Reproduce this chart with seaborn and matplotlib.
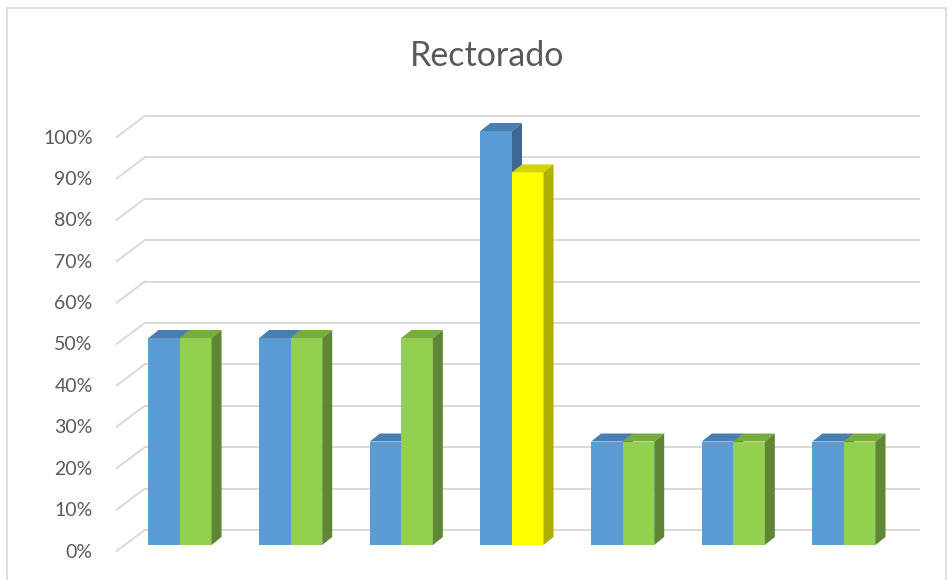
# grafico de barras "Rectorado" (estilo 3D de Excel)
import pandas as pd
import matplotlib.pyplot as plt
from matplotlib.patches import Polygon, Rectangle
import seaborn as sns

# datos
categorias = ['1', '2', '3', '4', '5', '6', '7']
serie_1 = [0.50, 0.50, 0.25, 1.00, 0.25, 0.25, 0.25]
serie_2 = [0.50, 0.50, 0.50, 0.90, 0.25, 0.25, 0.25]
ticks = [0.0, 0.1, 0.2, 0.3, 0.4, 0.5, 0.6, 0.7, 0.8, 0.9, 1.0]
titulo = "Rectorado"

# colores (frente, arriba, lado)
azul = ('#5b9bd5', '#4a7db0', '#3d6891')
verde = ('#92d050', '#77ac3f', '#5f8634')
amarillo = ('#ffff00', '#d4d400', '#b0b000')

W, H = 952, 580
fig = plt.figure(figsize=(W / 100, H / 100), dpi=100)

# posicion del eje en pixeles
L, B, AW, AH = 124.7, 35, 774.6, 414
ax = fig.add_axes([L / W, B / H, AW / W, AH / H])

df = pd.DataFrame({
    'categoria': categorias * 2,
    'valor': serie_1 + serie_2,
    'serie': ['Serie 1'] * len(categorias) + ['Serie 2'] * len(categorias),
})

sns.barplot(data=df, x='categoria', y='valor', hue='serie', palette=[azul[0], verde[0]],
            width=0.57, saturation=1, legend=False, ax=ax, zorder=3)

ax.set_xlim(-0.5, 6.5)
ax.set_ylim(0, 1)
ax.axis('off')

sx = 7 / AW   # unidades de datos por pixel
sy = 1 / AH

# la barra amarilla
barras = sorted(ax.patches, key=lambda p: p.get_x())
for i, p in enumerate(barras):
    p.set_edgecolor('none')
    if i == 7:
        p.set_facecolor(amarillo[0])

# caras superior y lateral
dx, dy = 10 * sx, 8 * sy
for i, p in enumerate(barras):
    x0, w, h = p.get_x(), p.get_width(), p.get_height()
    if i % 2 == 0:
        col, z = azul, 2
    else:
        col, z = (amarillo if i == 7 else verde), 4
    x1 = x0 + w
    top = Polygon([(x0, h), (x1, h), (x1 + dx, h + dy), (x0 + dx, h + dy)],
                  closed=True, facecolor=col[1], edgecolor='none', zorder=z, clip_on=False)
    side = Polygon([(x1, 0), (x1 + dx, dy), (x1 + dx, h + dy), (x1, h)],
                   closed=True, facecolor=col[2], edgecolor='none', zorder=z, clip_on=False)
    ax.add_patch(top)
    ax.add_patch(side)

# rejilla en la pared del fondo
xl, xr = -0.5, 6.5
for v in ticks:
    ax.plot([xl + 20 * sx, xr + 20 * sx], [v + 15 * sy, v + 15 * sy],
            color='#d9d9d9', lw=1.4, zorder=0, clip_on=False)
    ax.plot([xl - 8 * sx, xl + 20 * sx], [v - 6 * sy, v + 15 * sy],
            color='#d9d9d9', lw=1.4, zorder=0, clip_on=False)
    ax.text(xl - 32 * sx, v - 7 * sy, f"{int(round(v * 100))}%", ha='right', va='center',
            fontsize=14, color='#595959', family='Lato')

fig.text(487 / W, 1 - 56 / H, titulo, ha='center', va='center',
         fontsize=24.5, color='#595959', family='Lato')

# borde del grafico
fig.patches.append(Rectangle((7 / W, -0.05), (946 - 7) / W, (H - 8) / H + 0.05,
                             transform=fig.transFigure, fill=False,
                             edgecolor='#d9d9d9', lw=1.2))

fig.savefig('out.png', dpi=100)
